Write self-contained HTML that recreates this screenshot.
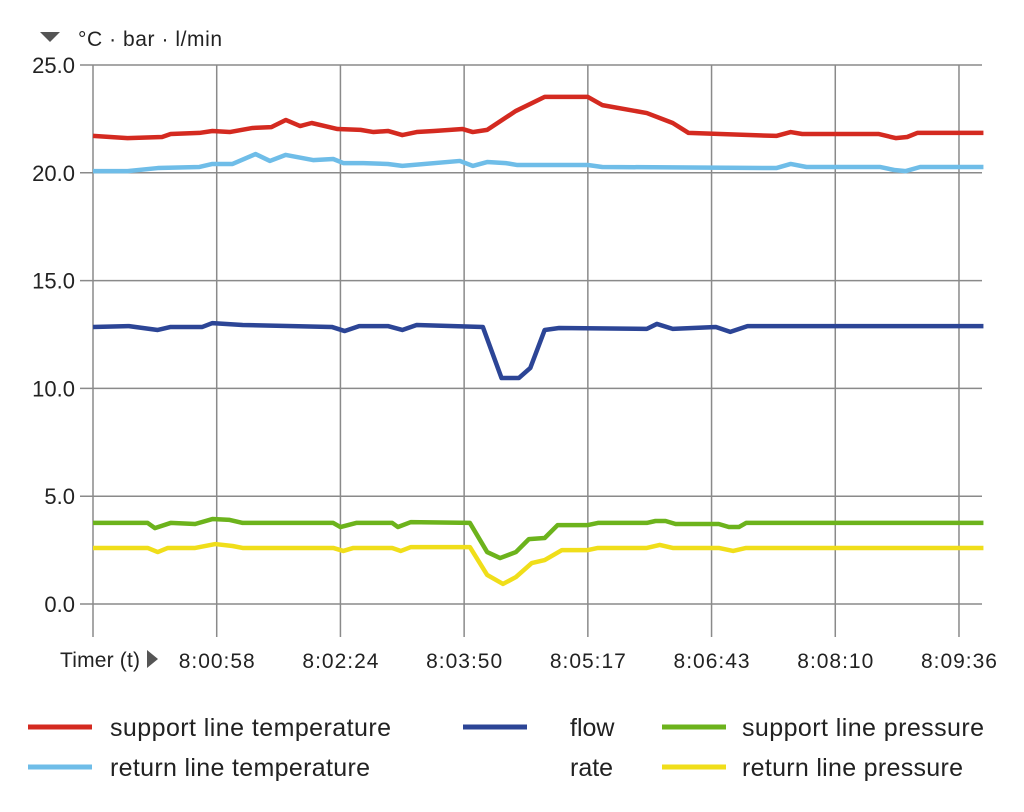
<!DOCTYPE html>
<html><head><meta charset="utf-8"><style>
body{margin:0;background:#fff;}
svg text{font-family:"Liberation Sans",sans-serif;fill:#222;}
</style></head><body>
<svg id="chart" width="1024" height="807" viewBox="0 0 1024 807" xmlns="http://www.w3.org/2000/svg">
<g id="grid"></g><g id="series"></g><g id="labels"></g>
<g font-size="25">
 <line x1="28" y1="727" x2="92" y2="727" stroke="#d42a20" stroke-width="5"/><text x="110" y="736" textLength="281">support line temperature</text>
 <line x1="28" y1="767" x2="92" y2="767" stroke="#6fbde8" stroke-width="5"/><text x="110" y="776" textLength="260">return line temperature</text>
 <line x1="463" y1="727" x2="527" y2="727" stroke="#2c4596" stroke-width="5"/><text x="570" y="736">flow</text><text x="570" y="776">rate</text>
 <line x1="662" y1="727" x2="726" y2="727" stroke="#6cb31c" stroke-width="5"/><text x="742" y="736" textLength="242">support line pressure</text>
 <line x1="662" y1="767" x2="726" y2="767" stroke="#f0de1a" stroke-width="5"/><text x="742" y="776" textLength="221">return line pressure</text>
</g>
<polygon points="40,32 60,32 50,42" fill="#555"/>
<text x="78" y="46" font-size="21" textLength="144">°C · bar · l/min</text>
<text x="60" y="667" font-size="21" textLength="80">Timer (t)</text>
<polygon points="147,650 147,668 158,659" fill="#555"/>
</svg>
<script>
const xTickSeconds=[86,172,258,344,430,516,602];
const xTickLabels=["8:00:58","8:02:24","8:03:50","8:05:17","8:06:43","8:08:10","8:09:36"];
const yTicks=[0,5,10,15,20,25];
const yTickLabels=["0.0","5.0","10.0","15.0","20.0","25.0"];
const supportTempT=[0,24,48,54,74,83,95,111,124,134,144,152,170,186,195,205,215,225,237,257,264,274,294,314,344,354,385,403,414,475,485,493,546,558,566,573,619];
const supportTempV=[21.71,21.61,21.66,21.8,21.85,21.94,21.89,22.08,22.12,22.45,22.17,22.31,22.03,21.99,21.89,21.94,21.75,21.89,21.94,22.03,21.89,21.99,22.87,23.52,23.52,23.14,22.77,22.31,21.85,21.71,21.89,21.8,21.8,21.61,21.66,21.85,21.85];
const returnTempT=[0,24,45,74,83,97,113,123,134,153,167,174,188,205,215,255,264,274,287,295,344,354,475,485,496,547,557,565,575,619];
const returnTempV=[20.08,20.08,20.22,20.27,20.41,20.41,20.87,20.55,20.83,20.59,20.64,20.45,20.45,20.41,20.32,20.55,20.32,20.5,20.45,20.36,20.36,20.27,20.22,20.41,20.27,20.27,20.13,20.08,20.27,20.27];
const flowT=[0,25,45,54,76,83,104,166,175,185,205,215,225,271,284,296,304,314,324,385,392,403,433,443,455,619];
const flowV=[12.85,12.89,12.71,12.85,12.85,13.03,12.94,12.85,12.66,12.89,12.89,12.71,12.94,12.85,10.48,10.48,10.95,12.71,12.8,12.76,12.99,12.76,12.85,12.62,12.89,12.89];
const supportPresT=[0,38,43,54,71,83,95,104,167,172,183,208,212,221,262,274,283,294,303,314,323,344,351,385,391,398,405,435,442,449,454,619];
const supportPresV=[3.76,3.76,3.52,3.76,3.71,3.94,3.9,3.76,3.76,3.57,3.76,3.76,3.57,3.8,3.76,2.41,2.13,2.41,3.01,3.06,3.66,3.66,3.76,3.76,3.85,3.85,3.71,3.71,3.57,3.57,3.76,3.76];
const returnPresT=[0,38,45,52,71,85,97,104,167,174,181,208,214,221,262,274,285,294,305,314,326,344,351,385,394,403,435,445,454,619];
const returnPresV=[2.6,2.6,2.41,2.6,2.6,2.78,2.69,2.6,2.6,2.46,2.6,2.6,2.46,2.64,2.64,1.35,0.93,1.25,1.9,2.04,2.5,2.5,2.6,2.6,2.74,2.6,2.6,2.46,2.6,2.6];

const NS="http://www.w3.org/2000/svg";
const X0=93,X1=982,T1=618,Y0=604,PX=21.56,TOP=65,BOT=637;
const xs=t=>X0+t*(X1-X0)/T1;
const ys=v=>Y0-v*PX;
function mk(tag,attrs,parent){const e=document.createElementNS(NS,tag);for(const k in attrs)e.setAttribute(k,attrs[k]);document.getElementById(parent).appendChild(e);return e;}
yTicks.forEach((v,i)=>{
 const l=mk('line',{x1:80,x2:X1,y1:ys(v),y2:ys(v),stroke:'#8a8a8a','stroke-width':1.5},'grid');
 
 
 const t=mk('text',{x:75,y:ys(v)+8,'text-anchor':'end','font-size':22},'labels');
 t.textContent=yTickLabels[i];
 
 
});
const vl=mk('line',{x1:X0,x2:X0,y1:TOP,y2:BOT,stroke:'#8a8a8a','stroke-width':1.5},'grid');


xTickSeconds.forEach((s,i)=>{
 const l=mk('line',{x1:xs(s),x2:xs(s),y1:TOP,y2:BOT,stroke:'#8a8a8a','stroke-width':1.5},'grid');
 
 
 const t=mk('text',{x:xs(s),y:668,'text-anchor':'middle','font-size':21,textLength:76},'labels');
 t.textContent=xTickLabels[i];
 
 
});
function line(T,V,color,name){
 const p=mk('polyline',{points:T.map((t,i)=>xs(t)+','+ys(V[i])).join(' '),fill:'none',stroke:color,'stroke-width':4.5,'stroke-linejoin':'round'},'series');
 
 
}
line(supportTempT,supportTempV,'#d42a20','support-line-temperature-line');
line(returnTempT,returnTempV,'#6fbde8','return-line-temperature-line');
line(flowT,flowV,'#2c4596','flow-rate-line');
line(supportPresT,supportPresV,'#6cb31c','support-line-pressure-line');
line(returnPresT,returnPresV,'#f0de1a','return-line-pressure-line');
</script>
</body></html>
